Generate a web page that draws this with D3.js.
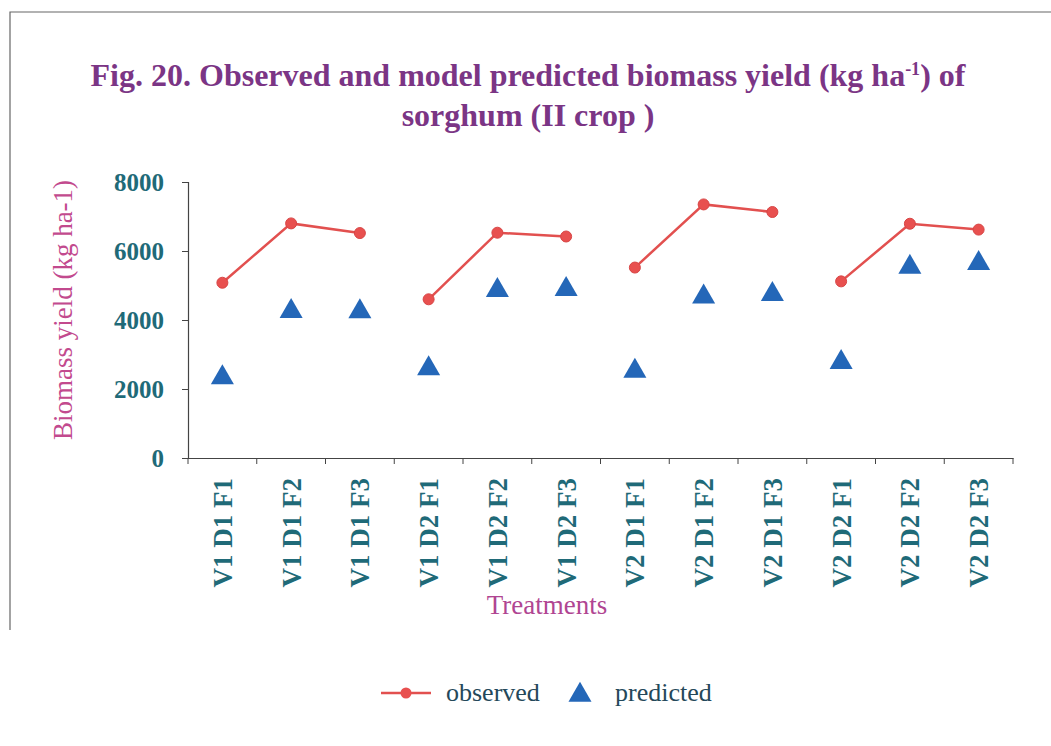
<!DOCTYPE html>
<html>
<head>
<meta charset="utf-8">
<script src="https://cdn.jsdelivr.net/npm/d3@7"></script>
<style>
  body { margin: 0; background: #fff; }
  svg { display: block; }
  .tick text { font-family: "Liberation Serif", serif; font-weight: bold; fill: #1f6a78; }
</style>
</head>
<body>
<div id="chart"></div>
<script>
var treatments = ["V1 D1 F1", "V1 D1 F2", "V1 D1 F3", "V1 D2 F1", "V1 D2 F2", "V1 D2 F3",
                  "V2 D1 F1", "V2 D1 F2", "V2 D1 F3", "V2 D2 F1", "V2 D2 F2", "V2 D2 F3"]
var observed = [5080, 6800, 6520, 4600, 6530, 6420, 5520, 7350, 7130, 5120, 6790, 6620]
var predicted = [2390, 4310, 4300, 2650, 4920, 4950, 2580, 4730, 4800, 2830, 5590, 5700]
var yTicks = [0, 2000, 4000, 6000, 8000]

var width = 1051,
    height = 746,
    mLeft = 188,
    mRight = 1013,
    mTop = 182,
    mBottom = 458

var svg = d3.select("#chart").append("svg")
    .attr("width", width)
    .attr("height", height)

// page frame
svg.append("path")
    .attr("d", "M10,630 V12 H1051")
    .attr("fill", "none")
    .attr("stroke", "#666")
    .attr("stroke-width", 1.2)

var x = d3.scaleBand()
  .domain(treatments)
  .range([mLeft, mRight])

var y = d3.scaleLinear()
  .domain([0, 8000])
  .range([mBottom, mTop])

// title
var title = svg.append("text")
    .attr("x", 528)
    .attr("y", 86)
    .attr("text-anchor", "middle")
    .style("font-family", "Liberation Serif, serif")
    .style("font-weight", "bold")
    .style("font-size", "32px")
    .style("fill", "#7b3585")
title.append("tspan").text("Fig. 20. Observed and model predicted biomass yield (kg ha")
title.append("tspan").attr("dy", -11).style("font-size", "18px").text("-1")
title.append("tspan").attr("dy", 11).text(") of")

svg.append("text")
    .attr("x", 528)
    .attr("y", 126)
    .attr("text-anchor", "middle")
    .style("font-family", "Liberation Serif, serif")
    .style("font-weight", "bold")
    .style("font-size", "32px")
    .style("fill", "#7b3585")
    .text("sorghum (II crop )")

// axes
var yAxis = svg.append("g")
    .attr("transform", "translate(" + mLeft + ",0)")
    .call(d3.axisLeft(y).tickValues(yTicks).tickFormat(d3.format("d")).tickSize(6).tickPadding(18))
yAxis.selectAll("text").style("font-size", "25px")

var xAxis = svg.append("g")
    .attr("transform", "translate(0," + mBottom + ")")
    .call(d3.axisBottom(x).tickSize(0).tickPadding(0))
xAxis.selectAll("text")
    .style("font-size", "27px")
    .attr("text-anchor", "end")
    .attr("dy", "0.35em")
    .attr("transform", "translate(0,20) rotate(-90)")

// tick marks on category boundaries
xAxis.selectAll("line.bound")
    .data(d3.range(treatments.length + 1))
  .enter().append("line")
    .attr("class", "bound")
    .attr("x1", function(i) { return mLeft + i * x.step() })
    .attr("x2", function(i) { return mLeft + i * x.step() })
    .attr("y1", 0)
    .attr("y2", 6)
    .attr("stroke", "#444")

svg.selectAll(".domain").attr("stroke", "#444").attr("stroke-width", 1.2)
svg.selectAll(".tick line").attr("stroke", "#444")

// axis titles
svg.append("text")
    .attr("transform", "translate(72,310) rotate(-90)")
    .attr("text-anchor", "middle")
    .style("font-family", "Liberation Serif, serif")
    .style("font-size", "27px")
    .style("fill", "#c24a8e")
    .text("Biomass yield (kg ha-1)")

svg.append("text")
    .attr("x", 547)
    .attr("y", 614)
    .attr("text-anchor", "middle")
    .style("font-family", "Liberation Serif, serif")
    .style("font-size", "27px")
    .style("fill", "#b04592")
    .text("Treatments")

var cx = function(i) { return x(treatments[i]) + x.bandwidth() / 2 }

// observed: one line per group of three
var line = d3.line()
  .x(function(d) { return cx(d) })
  .y(function(d) { return y(observed[d]) })

svg.selectAll("path.obs")
    .data(d3.range(0, treatments.length, 3).map(function(s) { return [s, s + 1, s + 2] }))
  .enter().append("path")
    .attr("class", "obs")
    .attr("d", line)
    .attr("fill", "none")
    .attr("stroke", "#e2504f")
    .attr("stroke-width", 2.5)

svg.selectAll("circle.obs")
    .data(observed)
  .enter().append("circle")
    .attr("class", "obs")
    .attr("cx", function(d, i) { return cx(i) })
    .attr("cy", function(d) { return y(d) })
    .attr("r", 5.5)
    .attr("fill", "#e8504f")
    .attr("stroke", "#d84545")

var tri = d3.symbol().type(d3.symbolTriangle).size(230)

svg.selectAll("path.pred")
    .data(predicted)
  .enter().append("path")
    .attr("class", "pred")
    .attr("d", tri)
    .attr("transform", function(d, i) { return "translate(" + cx(i) + "," + (y(d) + 2) + ")" })
    .attr("fill", "#2467b8")

// legend
var lg = svg.append("g").attr("transform", "translate(0,693)")
lg.append("line")
    .attr("x1", 381).attr("x2", 431)
    .attr("stroke", "#e2504f").attr("stroke-width", 2.5)
lg.append("circle")
    .attr("cx", 406).attr("r", 5.5)
    .attr("fill", "#e8504f")
lg.append("text")
    .attr("x", 446).attr("y", 8)
    .style("font-family", "Liberation Serif, serif")
    .style("font-size", "26px")
    .style("fill", "#24485a")
    .text("observed")
lg.append("path")
    .attr("d", tri)
    .attr("transform", "translate(580,2)")
    .attr("fill", "#2467b8")
lg.append("text")
    .attr("x", 615).attr("y", 8)
    .style("font-family", "Liberation Serif, serif")
    .style("font-size", "26px")
    .style("fill", "#24485a")
    .text("predicted")
</script>
</body>
</html>
